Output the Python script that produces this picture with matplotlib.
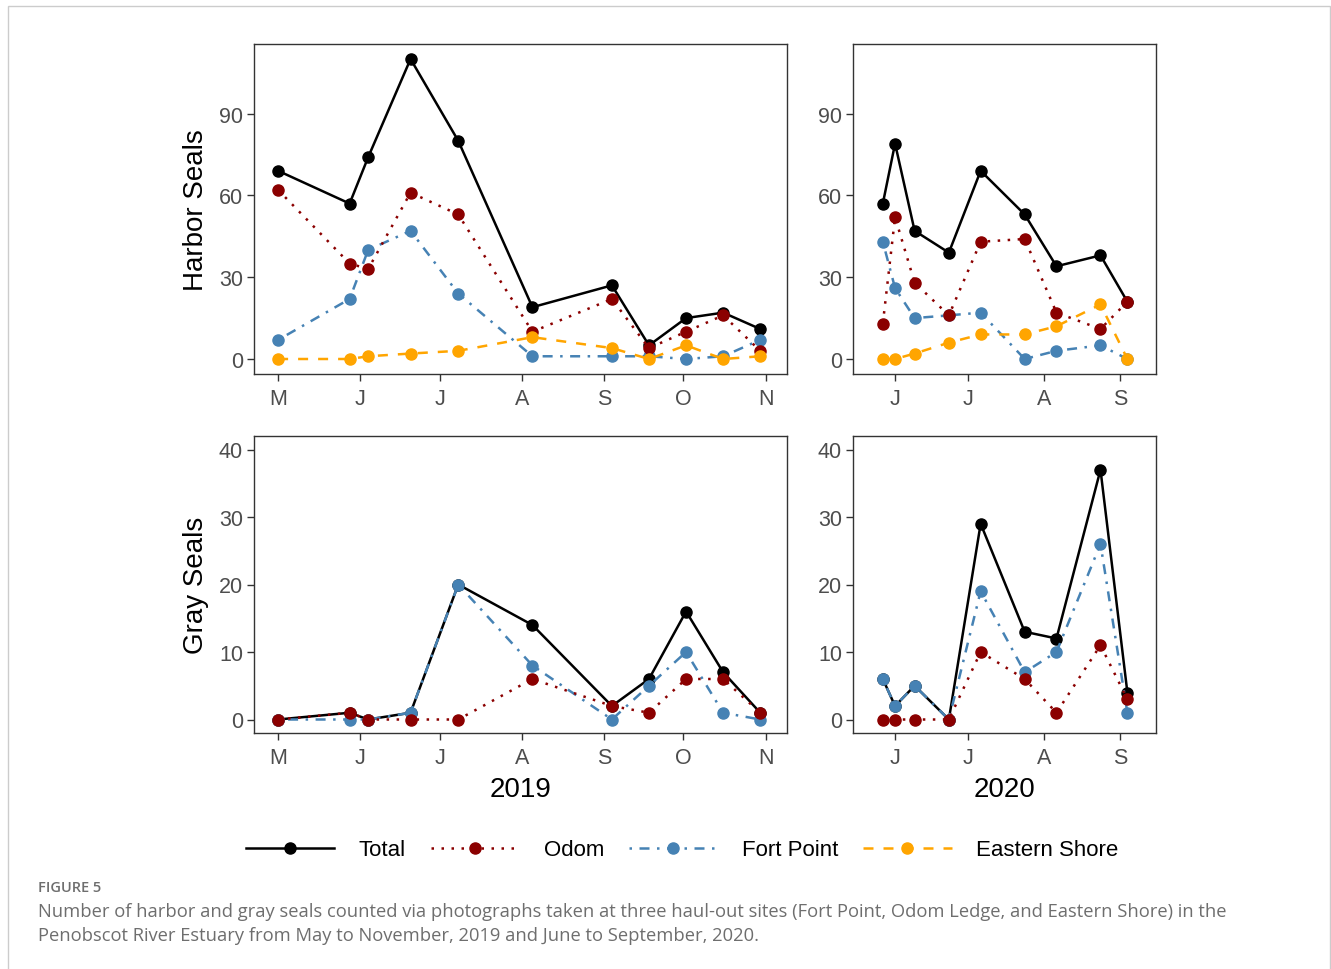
import pandas as pd
import matplotlib.pyplot as plt
import matplotlib.dates as mdates
from matplotlib.patches import Rectangle

# --- DATA ---
dates_2019 = pd.to_datetime([
    "2019-05-01", "2019-05-28", "2019-06-04", "2019-06-20", "2019-07-08",
    "2019-08-05", "2019-09-04", "2019-09-18", "2019-10-02", "2019-10-16",
    "2019-10-30",
])
dates_2020 = pd.to_datetime([
    "2020-05-27", "2020-06-01", "2020-06-09", "2020-06-23", "2020-07-06",
    "2020-07-24", "2020-08-06", "2020-08-24", "2020-09-04",
])

harbor_2019_total = [69, 57, 74, 110, 80, 19, 27, 5, 15, 17, 11]
harbor_2019_odom = [62, 35, 33, 61, 53, 10, 22, 4, 10, 16, 3]
harbor_2019_fort = [7, 22, 40, 47, 24, 1, 1, 1, 0, 1, 7]
harbor_2019_east = [0, 0, 1, 2, 3, 8, 4, 0, 5, 0, 1]

harbor_2020_total = [57, 79, 47, 39, 69, 53, 34, 38, 21]
harbor_2020_odom = [13, 52, 28, 16, 43, 44, 17, 11, 21]
harbor_2020_fort = [43, 26, 15, 16, 17, 0, 3, 5, 0]
harbor_2020_east = [0, 0, 2, 6, 9, 9, 12, 20, 0]

gray_2019_total = [0, 1, 0, 1, 20, 14, 2, 6, 16, 7, 1]
gray_2019_odom = [0, 1, 0, 0, 0, 6, 2, 1, 6, 6, 1]
gray_2019_fort = [0, 0, 0, 1, 20, 8, 0, 5, 10, 1, 0]

gray_2020_total = [6, 2, 5, 0, 29, 13, 12, 37, 4]
gray_2020_odom = [0, 0, 0, 0, 10, 6, 1, 11, 3]
gray_2020_fort = [6, 2, 5, 0, 19, 7, 10, 26, 1]

# --- STYLE ---
plt.rcParams["font.family"] = ["Liberation Sans", "DejaVu Sans"]

STYLES = {
    "Total": dict(color="black", ls="-", z=3),
    "Odom": dict(color="#8B0000", ls=(0, (1, 3)), z=5),
    "Fort Point": dict(color="#4682B4", ls=(0, (1, 3, 4, 3)), z=4),
    "Eastern Shore": dict(color="#FFA500", ls=(0, (4, 4)), z=6),
}

fig = plt.figure(figsize=(13.31, 9.70), dpi=100)

W, H = 1331, 970


def add_ax(x0, y0, x1, y1):
    return fig.add_axes([x0 / W, 1 - y1 / H, (x1 - x0) / W, (y1 - y0) / H])


ax_h19 = add_ax(254, 45, 787, 375)
ax_h20 = add_ax(853, 45, 1156, 375)
ax_g19 = add_ax(254, 437, 787, 734)
ax_g20 = add_ax(853, 437, 1156, 734)


def draw(ax, dates, series):
    for name, vals in series:
        st = STYLES[name]
        ax.plot(dates, vals, color=st["color"], linestyle=st["ls"], linewidth=1.8,
                marker="o", markersize=8, zorder=st["z"], label=name)


draw(ax_h19, dates_2019, [("Total", harbor_2019_total), ("Odom", harbor_2019_odom),
                          ("Fort Point", harbor_2019_fort), ("Eastern Shore", harbor_2019_east)])
draw(ax_h20, dates_2020, [("Total", harbor_2020_total), ("Odom", harbor_2020_odom),
                          ("Fort Point", harbor_2020_fort), ("Eastern Shore", harbor_2020_east)])
draw(ax_g19, dates_2019, [("Total", gray_2019_total), ("Odom", gray_2019_odom),
                          ("Fort Point", gray_2019_fort)])
draw(ax_g20, dates_2020, [("Total", gray_2020_total), ("Odom", gray_2020_odom),
                          ("Fort Point", gray_2020_fort)])

month_fmt = plt.FuncFormatter(lambda x, pos: mdates.num2date(x).strftime("%b")[0])

lim19 = (pd.Timestamp("2019-05-01") - pd.Timedelta(days=9.1),
         pd.Timestamp("2019-05-01") + pd.Timedelta(days=192.1))
lim20 = (pd.Timestamp("2020-06-01") - pd.Timedelta(days=17.2),
         pd.Timestamp("2020-06-01") + pd.Timedelta(days=106.7))

for ax, xl in [(ax_h19, lim19), (ax_g19, lim19), (ax_h20, lim20), (ax_g20, lim20)]:
    ax.set_xlim(*xl)
    ax.xaxis.set_major_locator(mdates.MonthLocator())
    ax.xaxis.set_major_formatter(month_fmt)
    ax.tick_params(axis="both", labelsize=15.5, labelcolor="#4D4D4D", color="#333333",
                   length=5, width=1, pad=3)
    ax.tick_params(axis="x", pad=5)
    for sp in ax.spines.values():
        sp.set_color("#333333")
        sp.set_linewidth(1)

for ax in (ax_h19, ax_h20):
    ax.set_ylim(-5.5, 115.5)
    ax.set_yticks([0, 30, 60, 90])
for ax in (ax_g19, ax_g20):
    ax.set_ylim(-2, 42)
    ax.set_yticks([0, 10, 20, 30, 40])

ax_h19.set_ylabel("Harbor Seals", fontsize=20, labelpad=7)
ax_g19.set_ylabel("Gray Seals", fontsize=20, labelpad=7)
ax_g19.set_xlabel("2019", fontsize=20, labelpad=6)
ax_g20.set_xlabel("2020", fontsize=20, labelpad=6)

handles, labels = ax_h19.get_legend_handles_labels()
fig.legend(handles, labels, loc="center", bbox_to_anchor=(682 / W, 1 - 851 / H),
           ncol=4, frameon=False, fontsize=16, handlelength=4, handletextpad=1.1,
           columnspacing=1.1, numpoints=1)

# caption
cap_font = ["Open Sans", "DejaVu Sans"]
fig.text(38 / W, 1 - 888 / H, "FIGURE 5", fontsize=10.5, color="#6E6E6E",
         family=cap_font, fontweight="semibold", va="center")
fig.text(38 / W, 1 - 912 / H,
         "Number of harbor and gray seals counted via photographs taken at three haul-out sites "
         "(Fort Point, Odom Ledge, and Eastern Shore) in the",
         fontsize=13.2, color="#6E6E6E", family=cap_font, va="center")
fig.text(38 / W, 1 - 936 / H,
         "Penobscot River Estuary from May to November, 2019 and June to September, 2020.",
         fontsize=13.2, color="#6E6E6E", family=cap_font, va="center")

# outer frame
fig.patches.append(Rectangle((7.5 / W, -0.01), (1329.5 - 7.5) / W, 1.01 - 6.5 / H,
                             transform=fig.transFigure, fill=False,
                             edgecolor="#CCCCCC", linewidth=1))

fig.savefig("out.png", dpi=100)
